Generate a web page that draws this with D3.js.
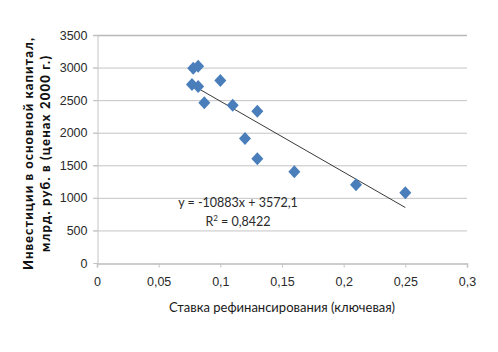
<!DOCTYPE html>
<html>
<head>
<meta charset="utf-8">
<script src="https://cdn.jsdelivr.net/npm/d3@7"></script>
<style>
  body { margin: 0; background: #fff; }
  svg { display: block; font-family: Lato, "Open Sans", sans-serif; }
</style>
</head>
<body>
<div id="chart"></div>
<script>
// key rate vs investment
const rates = [0.077, 0.078, 0.082, 0.082, 0.087, 0.1, 0.11, 0.12, 0.13, 0.13, 0.16, 0.21, 0.25];
const invest = [2740, 2990, 3020, 2710, 2460, 2800, 2420, 1910, 2330, 1600, 1400, 1200, 1080];
const xTicks = [0, 0.05, 0.1, 0.15, 0.2, 0.25, 0.3];
const yTicks = [0, 500, 1000, 1500, 2000, 2500, 3000, 3500];
const slope = -10883;
const intercept = 3572.1;
const eqText = 'y = -10883x + 3572,1';
const r2Text = '0,8422';

const width = 498;
const height = 352;

const svg = d3.select('#chart')
    .append('svg')
    .attr('width', width)
    .attr('height', height);

const xScale = d3.scaleLinear().domain([0, 0.3]).range([97, 467]);
const yScale = d3.scaleLinear().domain([0, 3500]).range([263, 35]);

const fmt = (d) => String(d).replace('.', ',');

// gridlines
svg.append('g')
    .selectAll('line')
    .data(yTicks.filter((d) => d > 0))
    .join('line')
    .attr('x1', 93)
    .attr('x2', xScale(0.3))
    .attr('y1', (d) => yScale(d) + 0.5)
    .attr('y2', (d) => yScale(d) + 0.5)
    .attr('stroke', (d) => d === 3500 ? '#b8b8b8' : '#c4c4c4')
    .attr('stroke-width', (d) => d === 3500 ? 1.5 : 1);

// y axis
const yAxis = svg.append('g')
    .attr('transform', `translate(${xScale(0) + 0.5},0)`)
    .call(d3.axisLeft(yScale).tickValues(yTicks).tickSize(4).tickPadding(6).tickFormat((d) => d));
yAxis.select('.domain').attr('stroke', '#c4c4c4');
yAxis.selectAll('.tick line').attr('stroke', '#c4c4c4');
yAxis.selectAll('text').attr('font-size', 12.5).attr('fill', '#2a2a2a');

// x axis
const xAxis = svg.append('g')
    .attr('transform', `translate(0,${yScale(0) + 0.5})`)
    .call(d3.axisBottom(xScale).tickValues(xTicks).tickSize(4).tickPadding(10).tickFormat(fmt));
xAxis.select('.domain').attr('stroke', '#bdbdbd').attr('stroke-width', 1.5);
xAxis.selectAll('.tick line').attr('stroke', '#c4c4c4');
xAxis.selectAll('text').attr('font-size', 12.5).attr('fill', '#2a2a2a');

// trend line
const x0 = d3.min(rates);
const x1 = d3.max(rates);
svg.append('line')
    .attr('x1', xScale(x0))
    .attr('y1', yScale(slope * x0 + intercept))
    .attr('x2', xScale(x1))
    .attr('y2', yScale(slope * x1 + intercept))
    .attr('stroke', '#222')
    .attr('stroke-width', 0.9);

// points
svg.append('g')
    .selectAll('path')
    .data(rates.map((r, i) => [r, invest[i]]))
    .join('path')
    .attr('d', 'M0,-6.5L6,0L0,6.5L-6,0Z')
    .attr('transform', (d) => `translate(${xScale(d[0])},${yScale(d[1])})`)
    .attr('fill', '#4a7ebb');

// equation label
svg.append('text')
    .attr('x', 238).attr('y', 207)
    .attr('text-anchor', 'middle')
    .attr('font-size', 12.5)
    .attr('fill', '#2a2a2a')
    .text(eqText);
const r2 = svg.append('text')
    .attr('x', 238).attr('y', 226)
    .attr('text-anchor', 'middle')
    .attr('font-size', 12.5)
    .attr('fill', '#2a2a2a');
r2.append('tspan').text('R');
r2.append('tspan').attr('font-size', 8).attr('dy', -5).text('2');
r2.append('tspan').attr('dy', 5).text(' = ' + r2Text);

// axis titles
svg.append('text')
    .attr('x', 282).attr('y', 312)
    .attr('text-anchor', 'middle')
    .attr('font-size', 13)
    .attr('fill', '#1a1a1a')
    .text('Ставка рефинансирования (ключевая)');

const yTitle = svg.append('text')
    .attr('transform', 'translate(0,154) rotate(-90)')
    .attr('text-anchor', 'middle')
    .attr('font-size', 13)
    .attr('font-weight', 900)
    .attr('fill', '#111');
yTitle.append('tspan').attr('x', 0).attr('y', 33)
    .attr('textLength', 232).attr('lengthAdjust', 'spacing')
    .text('Инвестиции в основной капитал,');
yTitle.append('tspan').attr('x', 0).attr('y', 50)
    .attr('textLength', 196).attr('lengthAdjust', 'spacing')
    .text('млрд. руб. в  (ценах 2000 г.)');
</script>
</body>
</html>
